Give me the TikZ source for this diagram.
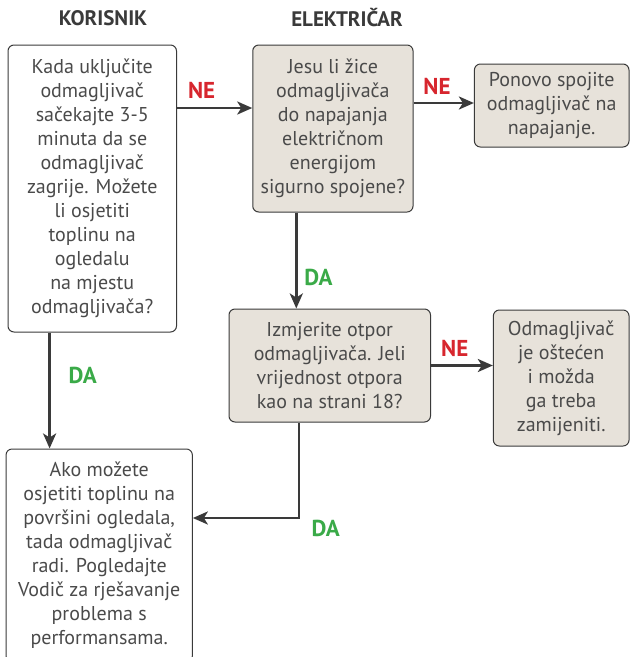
\documentclass[tikz,border=0pt]{standalone}
\usepackage{fontspec}
\setmainfont{PT Sans}
\usetikzlibrary{arrows.meta}

\definecolor{boxfill}{HTML}{E7E2DA}
\definecolor{linegray}{HTML}{3A3A3A}
\definecolor{textgray}{HTML}{4A4A4A}
\definecolor{nered}{HTML}{D7262E}
\definecolor{dagreen}{HTML}{3AAA48}

\begin{document}
\begin{tikzpicture}[x=1pt,y=-1pt,
  box/.style={draw=linegray, line width=1pt, rounded corners=6pt, align=center,
    text=textgray, font=\fontsize{20}{24}\selectfont, inner sep=0pt},
  tbox/.style={box, fill=boxfill},
  head/.style={text=linegray, font=\fontsize{21}{24}\selectfont\bfseries},
  ne/.style={text=nered, font=\fontsize{23}{24}\selectfont\bfseries},
  da/.style={text=dagreen, font=\fontsize{23}{24}\selectfont\bfseries},
  arr/.style={draw=linegray, line width=2.7pt, -{Stealth[length=15pt,width=13pt,inset=4pt]}}]
\useasboundingbox (0,0) rectangle (632,657);
%headers
\node[head] (korisnik) at (103,18) {KORISNIK};
\node[head] (elektricar) at (347,18) {ELEKTRIČAR};
%boxes
\node[box, minimum width=168.5pt, minimum height=287pt] (A) at (92.25,188.5)
  {Kada uključite\\ odmagljivač\\ sačekajte 3-5\\ minuta da se\\ odmagljivač\\ zagrije. Možete\\ li osjetiti\\ toplinu na\\ ogledalu\\ na mjestu\\ odmagljivača?};
\node[tbox, minimum width=160.3pt, minimum height=167pt] (B) at (332.9,128.5)
  {Jesu li žice\\ odmagljivača\\ do napajanja\\ električnom\\ energijom\\ sigurno spojene?};
\node[tbox, minimum width=154.6pt, minimum height=83pt] (C) at (551.7,105.5)
  {Ponovo spojite\\ odmagljivač na\\ napajanje.};
\node[tbox, minimum width=201.5pt, minimum height=113pt] (D) at (329.75,365.5)
  {Izmjerite otpor\\ odmagljivača. Jeli\\ vrijednost otpora\\ kao na strani 18?};
\node[tbox, minimum width=135.7pt, minimum height=136pt] (E) at (561.2,378)
  {Odmagljivač\\ je oštećen\\ i možda\\ ga treba\\ zamijeniti.};
\node[box, minimum width=186.3pt, minimum height=213pt] (F) at (99.2,555.5)
  {Ako možete\\ osjetiti toplinu na\\ površini ogledala,\\ tada odmagljivač\\ radi. Pogledajte\\ Vodič za rješavanje\\ problema s\\ performansama.};
%turn points
\coordinate (abrow) at (0,108);
\coordinate (bcrow) at (0,103);
\coordinate (bdcol) at (296.3,0);
\coordinate (afcol) at (49.6,0);
\coordinate (dfturn) at (299,518);
%arrows
\draw[arr] (A.east |- abrow) -- (B.west |- abrow);
\draw[arr] (B.east |- bcrow) -- (C.west |- bcrow);
\draw[arr] (B.south -| bdcol) -- (D.north -| bdcol);
\draw[arr] (D.east) -- (D.east -| E.west);
\draw[arr] (A.south -| afcol) -- (F.north -| afcol);
\draw[arr] (D.south -| dfturn) -- (dfturn) -- (dfturn -| F.east);
%labels
\node[ne] (ne1) at (201.6,90) {NE};
\node[ne] (ne2) at (437,86) {NE};
\node[da] (da1) at (318.5,277) {DA};
\node[ne] (ne3) at (454.7,348) {NE};
\node[da] (da2) at (82.6,375) {DA};
\node[da] (da3) at (325.6,528) {DA};
\end{tikzpicture}
\end{document}
